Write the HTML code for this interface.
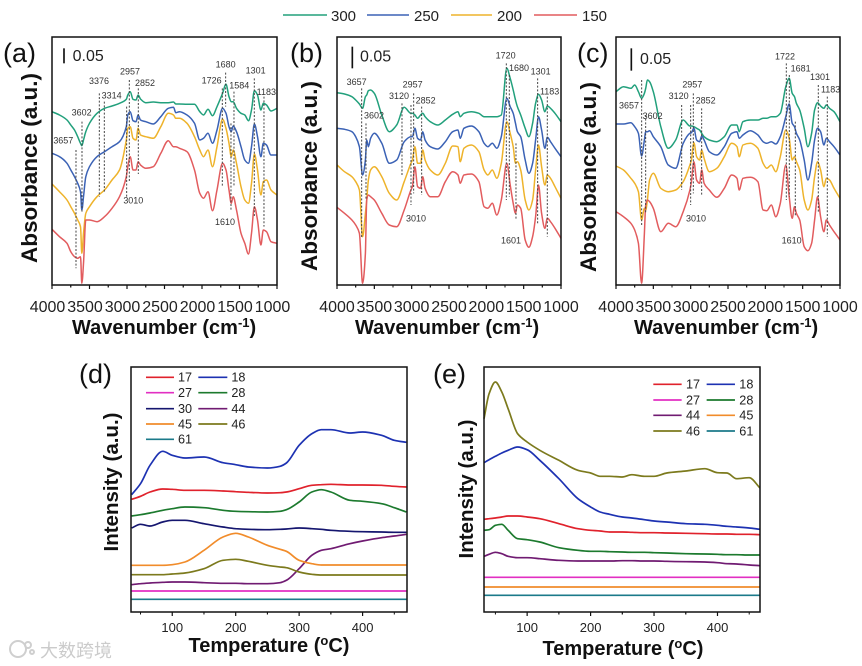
<!DOCTYPE html>
<html lang="en">
<head>
<meta charset="utf-8">
<title>FTIR and TPD chart panels</title>
<style>
html,body{margin:0;padding:0;background:#fff;}
svg{display:block;font-family:"Liberation Sans","Noto Sans CJK SC",sans-serif;}
.title{font-weight:bold;font-size:20px;fill:#111;}
.panel-tag{font-size:27px;fill:#111;}
.legend-text{font-size:15px;fill:#222;}
</style>
</head>
<body>
<svg id="figure" width="862" height="666" viewBox="0 0 862 666" xmlns="http://www.w3.org/2000/svg">
  <rect width="862" height="666" fill="#fff"/>

  <g stroke-width="1.5">
    <line x1="283" y1="15" x2="327" y2="15" stroke="#22a07c"/>
    <text class="legend-text" x="331" y="21" stroke="none">300</text>
    <line x1="367" y1="15" x2="409" y2="15" stroke="#3b62b5"/>
    <text class="legend-text" x="414" y="21" stroke="none">250</text>
    <line x1="451" y1="15" x2="492" y2="15" stroke="#eeb32b"/>
    <text class="legend-text" x="497" y="21" stroke="none">200</text>
    <line x1="534" y1="15" x2="577" y2="15" stroke="#e25c5e"/>
    <text class="legend-text" x="582" y="21" stroke="none">150</text>
  </g>

  <text class="panel-tag" x="3" y="62">(a)</text>
  <text class="panel-tag" x="290" y="62">(b)</text>
  <text class="panel-tag" x="577" y="62">(c)</text>
  <text class="panel-tag" x="79" y="383">(d)</text>
  <text class="panel-tag" x="433" y="383">(e)</text>

  <text class="title" style="font-size:22.5px" text-anchor="middle" transform="translate(37,168) rotate(-90)">Absorbance (a.u.)</text>
  <text class="title" style="font-size:22.5px" text-anchor="middle" transform="translate(317,176) rotate(-90)">Absorbance (a.u.)</text>
  <text class="title" style="font-size:22.5px" text-anchor="middle" transform="translate(596,177) rotate(-90)">Absorbance (a.u.)</text>
  <text class="title" x="72" y="334">Wavenumber (cm<tspan dy="-7" font-size="13">-1</tspan><tspan dy="7">)</tspan></text>
  <text class="title" x="355" y="334">Wavenumber (cm<tspan dy="-7" font-size="13">-1</tspan><tspan dy="7">)</tspan></text>
  <text class="title" x="634" y="334">Wavenumber (cm<tspan dy="-7" font-size="13">-1</tspan><tspan dy="7">)</tspan></text>
  <text class="title" style="font-size:20.5px" text-anchor="middle" transform="translate(118,482) rotate(-90)">Intensity (a.u.)</text>
  <text class="title" style="font-size:20.5px" text-anchor="middle" transform="translate(473,489) rotate(-90)">Intensity (a.u.)</text>
  <text class="title" text-anchor="middle" x="269" y="652">Temperature (<tspan dy="-7" font-size="13">o</tspan><tspan dy="7">C)</tspan></text>
  <text class="title" text-anchor="middle" x="623" y="655">Temperature (<tspan dy="-7" font-size="13">o</tspan><tspan dy="7">C)</tspan></text>

  <g fill="none" stroke="#cfcfcf" stroke-width="2">
    <circle cx="18" cy="649" r="8"/>
    <circle cx="28" cy="645" r="3"/>
    <circle cx="32" cy="652" r="2"/>
    <text x="40" y="657" font-size="18" fill="#cbcbcb" stroke="none" font-family="'Liberation Sans','Noto Sans CJK SC',sans-serif">大数跨境</text>
  </g>
</svg>

<script>
// ---------- FTIR data (panels a, b, c): absorbance in arbitrary units ----------
const wavenumbers = [4000,3900,3800,3750,3700,3657,3620,3602,3580,3550,3500,3400,3300,3200,3100,3010,2990,2957,2920,2880,2852,2820,2750,2650,2550,2450,2380,2350,2300,2200,2100,2030,1980,1920,1860,1800,1726,1680,1640,1610,1584,1540,1480,1430,1380,1340,1301,1260,1215,1183,1140,1080,1000];
const wavenumberTicks = [4000,3500,3000,2500,2000,1500,1000];

const a300 = [520,510,495,480,465,445,425,418,435,460,485,515,530,537,545,557,570,580,557,555,570,558,547,549,547,547,549,543,543,542,542,520,510,527,508,535,575,602,565,550,550,530,515,510,493,525,583,570,525,545,540,522,530];
const a250 = [395,385,365,345,325,305,280,225,265,325,355,385,400,415,430,475,510,520,493,490,510,495,490,483,505,530,533,517,520,510,485,435,440,455,425,465,530,515,475,460,477,460,415,375,365,415,483,445,385,425,420,390,390];
const a200 = [303,280,255,235,215,195,175,95,155,215,235,265,285,315,345,435,470,475,440,435,470,450,445,440,475,515,510,500,500,485,445,405,385,405,355,415,497,470,425,385,405,365,295,255,245,305,393,345,270,310,315,285,270];
const a150 = [167,145,125,100,85,80,85,5,65,195,195,190,205,230,265,325,355,385,345,345,370,360,350,355,395,433,415,415,410,400,345,275,260,280,223,285,365,345,285,245,265,225,155,125,93,155,235,195,120,165,160,130,125];

const b300 = [577,573,565,555,543,530,565,570,583,585,575,510,460,480,533,515,515,510,500,510,515,505,490,480,495,512,520,505,515,520,515,505,505,505,505,510,650,620,585,555,535,510,470,445,485,545,572,555,520,537,530,515,490];
const b250 = [470,467,460,445,415,330,375,435,415,440,455,425,365,375,430,445,445,470,440,435,460,435,415,408,430,460,465,440,470,477,460,425,415,425,410,445,560,535,515,485,460,445,375,335,365,435,505,465,410,443,430,410,385];
const b200 = [360,340,325,310,285,145,215,255,315,345,355,325,275,255,310,365,375,415,365,365,405,375,345,330,365,417,415,370,410,420,400,345,330,345,320,365,490,455,415,365,370,345,255,225,255,345,420,355,300,330,320,295,260];
const b150 = [233,215,195,180,155,5,95,255,270,265,255,215,180,175,225,285,295,355,295,290,325,290,265,265,310,340,330,305,330,333,310,235,230,245,210,255,365,300,245,215,240,230,135,113,145,205,300,215,170,200,190,170,140];

const c300 = [580,595,590,600,580,560,575,590,615,610,580,475,410,435,495,477,477,475,470,465,455,445,435,430,445,480,480,460,490,495,495,500,500,505,505,515,595,620,575,565,545,525,470,415,455,525,547,537,530,540,530,520,490];
const c250 = [483,483,487,475,455,387,435,460,460,463,445,415,360,350,425,455,457,470,435,430,447,435,400,390,415,455,460,440,450,463,450,430,425,430,423,445,505,543,485,475,455,435,375,315,365,435,470,460,420,440,430,415,390];
const c200 = [357,345,320,305,280,195,230,225,255,315,335,290,280,285,310,360,375,427,385,375,405,380,340,350,385,425,415,385,420,425,410,365,350,360,340,385,465,440,375,385,370,345,255,225,255,325,370,345,295,320,315,290,260];
const c150 = [220,205,185,165,125,5,155,240,255,250,230,160,185,175,220,285,310,370,315,305,345,305,285,263,290,330,320,285,320,323,310,225,223,240,205,245,360,265,200,235,215,195,115,103,125,195,265,205,160,195,180,160,135];

// ---------- TPD data (panel d) ----------
const tempsD = [36,50,65,85,100,120,150,180,200,220,250,270,280,300,320,335,350,380,400,430,450,469];
const temperatureTicks = [100,200,300,400];
const d17 = [338,347,360,369,368,365,365,363,361,359,357,358,360,370,380,382,383,381,381,380,377,375];
const d18 = [352,385,440,482,470,462,465,448,442,435,432,437,447,500,535,547,547,537,540,530,515,509];
const d27 = [63,63,63,63,63,63,63,63,63,63,63,63,63,63,63,63,63,63,63,63,63,63];
const d28 = [288,292,297,305,310,315,313,305,302,301,300,302,307,330,360,367,360,335,332,325,313,300];
const d30 = [252,263,258,270,275,275,265,255,250,248,247,248,249,252,250,248,245,242,241,240,239,239];
const d44 = [82,85,87,89,90,90,88,86,86,85,85,88,95,130,170,185,190,205,213,223,228,233];
const d45 = [140,140,140,140,142,150,185,225,236,225,200,188,182,155,145,141,141,141,141,141,141,141];
const d46 = [112,112,112,112,114,117,130,155,158,152,140,135,133,120,113,111,111,111,111,111,111,111];
const d61 = [38,38,38,38,38,38,38,38,38,38,38,38,38,38,38,38,38,38,38,38,38,38];

// ---------- TPD data (panel e) ----------
const tempsE = [32,40,50,60,70,85,100,120,150,180,200,215,230,250,265,285,300,320,350,380,400,415,430,450,467];
const e17 = [278,280,282,285,288,288,285,280,265,250,245,243,240,240,239,238,238,237,236,235,234,234,233,233,232];
const e18 = [448,457,467,477,485,495,487,455,400,340,315,300,293,285,282,277,273,270,265,263,260,257,255,252,248];
const e27 = [104,104,104,104,104,104,104,104,104,104,104,104,104,104,104,104,104,104,104,104,104,104,104,104,104];
const e28 = [245,247,260,263,245,220,217,210,193,185,182,182,181,180,179,179,178,177,175,174,173,172,172,171,171];
const e44 = [167,173,179,175,167,163,163,160,155,153,153,153,153,154,154,153,153,152,151,150,148,145,144,141,139];
const e45 = [75,75,75,75,75,75,75,75,75,75,75,75,75,75,75,75,75,75,75,75,75,75,75,75,75];
const e46 = [580,655,690,660,610,535,510,485,455,425,417,407,407,405,412,407,407,417,423,430,418,417,400,403,372];
const e61 = [50,50,50,50,50,50,50,50,50,50,50,50,50,50,50,50,50,50,50,50,50,50,50,50,50];

const svg = document.getElementById('figure');
const NS = 'http://www.w3.org/2000/svg';

function make(tag, parent, props) {
  const node = document.createElementNS(NS, tag);
  for (const key in props) node.setAttribute(key, props[key]);
  parent.appendChild(node);
  return node;
}
function linear(d0, d1, r0, r1) {
  return function (v) { return r0 + (v - d0) / (d1 - d0) * (r1 - r0); };
}

function drawFrame(tag, box) {
  const frame = make('rect', svg, {x: box.left, y: box.top, width: box.right - box.left, height: box.bottom - box.top, fill: 'none', stroke: '#111', 'stroke-width': 1.5});
  
  
}

function drawTicks(tag, ticks, minorStep, xOf, bottom, fontSize, baseline, shift) {
  ticks.forEach(function (t) {
    const tick = make('line', svg, {x1: xOf(t), x2: xOf(t), y1: bottom, y2: bottom + 4, stroke: '#111', 'stroke-width': 1.2});
    
    
    const label = make('text', svg, {x: xOf(t) + shift, y: baseline, 'text-anchor': 'middle', 'font-size': fontSize, fill: '#222'});
    label.textContent = t;
    
    
    [-minorStep, minorStep].forEach(function (off) {
      const mv = t + off;
      const [lo, hi] = xOf.domain;
      if (mv < lo || mv > hi) return;
      const minor = make('line', svg, {x1: xOf(mv), x2: xOf(mv), y1: bottom, y2: bottom + 2.5, stroke: '#111', 'stroke-width': 1});
      
      
    });
  });
}

// Monotone cubic interpolation: smooth like the reference, no overshoot on sharp peaks.
function smoothPath(px, py) {
  const n = px.length;
  const h = [], s = [], m = [];
  for (let i = 0; i < n - 1; i++) {
    h.push(px[i + 1] - px[i]);
    s.push((py[i + 1] - py[i]) / h[i]);
  }
  m.push(s[0]);
  for (let i = 1; i < n - 1; i++) {
    if (s[i - 1] * s[i] <= 0) {
      m.push(0);
    } else {
      m.push(3 * (h[i - 1] + h[i]) / ((2 * h[i] + h[i - 1]) / s[i - 1] + (h[i] + 2 * h[i - 1]) / s[i]));
    }
  }
  m.push(s[n - 2]);
  let d = 'M' + px[0].toFixed(1) + ' ' + py[0].toFixed(1);
  for (let i = 0; i < n - 1; i++) {
    const c1x = px[i] + h[i] / 3, c1y = py[i] + m[i] * h[i] / 3;
    const c2x = px[i + 1] - h[i] / 3, c2y = py[i + 1] - m[i + 1] * h[i] / 3;
    d += 'C' + c1x.toFixed(1) + ' ' + c1y.toFixed(1) + ' ' + c2x.toFixed(1) + ' ' + c2y.toFixed(1) + ' ' + px[i + 1].toFixed(1) + ' ' + py[i + 1].toFixed(1);
  }
  return d;
}

function drawSeries(name, xs, values, xOf, yOf, color, width) {
  const path = make('path', svg, {d: smoothPath(xs.map(xOf), values.map(yOf)), fill: 'none', stroke: color, 'stroke-width': width, 'stroke-linejoin': 'round'});
  
  
}

function spectraPanel(tag, left, right, labelShift, s300, s250, s200, s150) {
  const box = {left: left, right: right, top: 37, bottom: 285};
  const xOf = linear(4000, 1000, left, right);
  xOf.domain = [1000, 4000];
  const yOf = linear(0, 744, 285, 37);
  drawSeries('series-300-' + tag, wavenumbers, s300, xOf, yOf, '#22a07c', 1.5);
  drawSeries('series-250-' + tag, wavenumbers, s250, xOf, yOf, '#3b62b5', 1.5);
  drawSeries('series-200-' + tag, wavenumbers, s200, xOf, yOf, '#eeb32b', 1.5);
  drawSeries('series-150-' + tag, wavenumbers, s150, xOf, yOf, '#e25c5e', 1.5);
  drawFrame(tag, box);
  drawTicks(tag, wavenumberTicks, 250, xOf, 285, 16, 312, labelShift);
}

function tpdPanel(tag, left, right, d0, d1, temps, list) {
  const box = {left: left, right: right, top: 367, bottom: 612};
  const xOf = linear(d0, d1, left, right);
  xOf.domain = [d0, d1];
  const yOf = linear(0, 735, 612, 367);
  list.forEach(function (s) { drawSeries('series-mz' + s[0] + '-' + tag, temps, s[1], xOf, yOf, s[2], 1.7); });
  drawFrame(tag, box);
  drawTicks(tag, temperatureTicks, 50, xOf, 612, 13, 632, 0);
}

function zoomLayer(name, ox, oy) {
  const g = make('g', svg, {transform: 'translate(' + ox + ',' + oy + ') scale(0.3333)'});
  
  
  return g;
}
function peak(g, tag, text, tx, ty, dx, y1, y2) {
  const dash = make('line', g, {x1: dx, x2: dx, y1: y1, y2: y2, stroke: '#444', 'stroke-width': 3, 'stroke-dasharray': '6 5'});
  
  
  const label = make('text', g, {x: tx, y: ty, 'font-size': 27, fill: '#333'});
  label.textContent = text;
  
  
}
function scaleBar(g, tag, bx, y1, y2, tx, ty) {
  const bar = make('line', g, {x1: bx, x2: bx, y1: y1, y2: y2, stroke: '#111', 'stroke-width': 5});
  
  
  const label = make('text', g, {x: tx, y: ty, 'font-size': 48, fill: '#222'});
  label.textContent = '0.05';
  
  
}
function legendEntry(g, tag, text, lx1, lx2, tx, cy, color) {
  const line = make('line', g, {x1: lx1, x2: lx2, y1: cy, y2: cy, stroke: color, 'stroke-width': 5});
  
  
  const label = make('text', g, {x: tx, y: cy + 13, 'font-size': 38, fill: '#222'});
  label.textContent = text;
  
  
}

const RED = '#e0222c', BLUE = '#1d32b2', MAG = '#e22fc2', GREEN = '#1c7a2e', NAVY = '#15166f', PURPLE = '#701b72', ORANGE = '#f18c2b', OLIVE = '#7c7a1d', TEAL = '#1b7a8a';

spectraPanel('a', 52, 277, -4.5, a300, a250, a200, a150);
spectraPanel('b', 337, 561, 0, b300, b250, b200, b150);
spectraPanel('c', 616, 840, 0, c300, c250, c200, c150);

tpdPanel('d', 131, 407, 35, 470, tempsD, [
  ['61', d61, TEAL], ['27', d27, MAG], ['44', d44, PURPLE], ['46', d46, OLIVE], ['45', d45, ORANGE],
  ['30', d30, NAVY], ['28', d28, GREEN], ['17', d17, RED], ['18', d18, BLUE]
]);
tpdPanel('e', 484, 760, 32, 467, tempsE, [
  ['61', e61, TEAL], ['45', e45, ORANGE], ['27', e27, MAG], ['44', e44, PURPLE], ['28', e28, GREEN],
  ['17', e17, RED], ['18', e18, BLUE], ['46', e46, OLIVE]
]);

const la = zoomLayer('annotations-a', 0, 0);
scaleBar(la, 'a', 192, 145, 190, 218, 183);
peak(la, 'a', '3657', 160, 430, 228, 450, 805);
peak(la, 'a', '3602', 215, 347, 246, 365, 640);
peak(la, 'a', '3376', 267, 252, 298, 280, 590);
peak(la, 'a', '3314', 305, 295, 313, 305, 578);
peak(la, 'a', '2957', 360, 223, 388, 240, 545);
peak(la, 'a', '2852', 405, 258, 415, 265, 522);
peak(la, 'a', '3010', 370, 610, 380, 320, 590);
peak(la, 'a', '1726', 605, 250, 667, 265, 560);
peak(la, 'a', '1680', 647, 203, 677, 218, 320);
peak(la, 'a', '1584', 688, 265, 702, 275, 560);
peak(la, 'a', '1610', 645, 675, 693, 370, 630);
peak(la, 'a', '1301', 737, 220, 763, 235, 650);
peak(la, 'a', '1183', 770, 285, 792, 290, 680);

const lb = zoomLayer('annotations-b', 285, 0);
scaleBar(lb, 'b', 202, 140, 205, 225, 185);
peak(lb, 'b', '3657', 185, 255, 230, 265, 715);
peak(lb, 'b', '3602', 237, 355, 243, 370, 600);
peak(lb, 'b', '3120', 312, 297, 351, 310, 525);
peak(lb, 'b', '2957', 353, 262, 386, 280, 580);
peak(lb, 'b', '2852', 392, 310, 410, 320, 585);
peak(lb, 'b', '3010', 363, 665, 378, 315, 615);
peak(lb, 'b', '1720', 632, 175, 664, 190, 600);
peak(lb, 'b', '1680', 672, 213, 673, 225, 590);
peak(lb, 'b', '1601', 648, 730, 693, 430, 660);
peak(lb, 'b', '1301', 737, 223, 758, 235, 670);
peak(lb, 'b', '1183', 765, 283, 787, 290, 710);

const lc = zoomLayer('annotations-c', 570, 0);
scaleBar(lc, 'c', 184, 145, 212, 210, 192);
peak(lc, 'c', '3657', 147, 325, 215, 240, 680);
peak(lc, 'c', '3602', 218, 357, 227, 345, 640);
peak(lc, 'c', '3120', 296, 297, 335, 315, 570);
peak(lc, 'c', '2957', 337, 262, 370, 280, 580);
peak(lc, 'c', '2852', 377, 310, 395, 325, 585);
peak(lc, 'c', '3010', 348, 665, 362, 315, 615);
peak(lc, 'c', '1722', 615, 178, 649, 190, 600);
peak(lc, 'c', '1681', 662, 215, 658, 225, 590);
peak(lc, 'c', '1610', 635, 730, 676, 365, 650);
peak(lc, 'c', '1301', 720, 240, 745, 255, 640);
peak(lc, 'c', '1183', 753, 277, 772, 290, 710);

const ld = zoomLayer('legend-d', 70, 350);
legendEntry(ld, 'd', '17', 228, 312, 324, 82, RED);
legendEntry(ld, 'd', '18', 385, 472, 484, 82, BLUE);
legendEntry(ld, 'd', '27', 228, 312, 324, 128, MAG);
legendEntry(ld, 'd', '28', 385, 472, 484, 128, GREEN);
legendEntry(ld, 'd', '30', 228, 312, 324, 176, NAVY);
legendEntry(ld, 'd', '44', 385, 472, 484, 176, PURPLE);
legendEntry(ld, 'd', '45', 228, 312, 324, 222, ORANGE);
legendEntry(ld, 'd', '46', 385, 472, 484, 222, OLIVE);
legendEntry(ld, 'd', '61', 228, 312, 324, 268, TEAL);

const le = zoomLayer('legend-e', 430, 350);
legendEntry(le, 'e', '17', 670, 755, 768, 103, RED);
legendEntry(le, 'e', '18', 830, 915, 928, 103, BLUE);
legendEntry(le, 'e', '27', 670, 755, 768, 150, MAG);
legendEntry(le, 'e', '28', 830, 915, 928, 150, GREEN);
legendEntry(le, 'e', '44', 670, 755, 768, 196, PURPLE);
legendEntry(le, 'e', '45', 830, 915, 928, 196, ORANGE);
legendEntry(le, 'e', '46', 670, 755, 768, 243, OLIVE);
legendEntry(le, 'e', '61', 830, 915, 928, 243, TEAL);
</script>
</body>
</html>
